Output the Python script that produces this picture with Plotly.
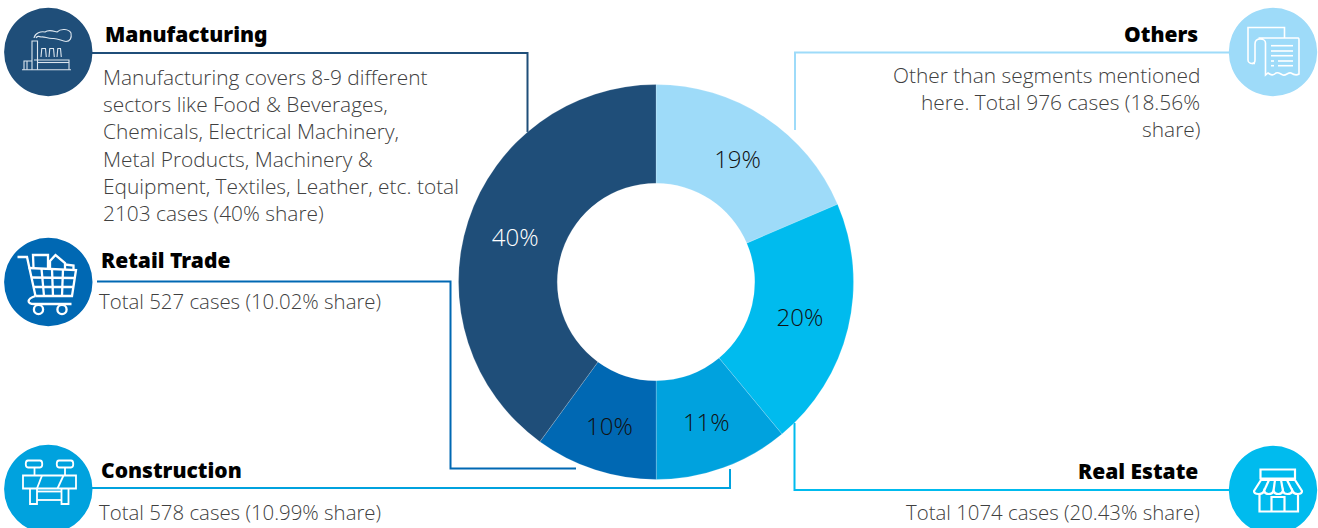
import re
import plotly.graph_objects as go

WIDTH, HEIGHT = 1318, 528

# Donut slices, clockwise from twelve o'clock
categories = ["Others", "Real Estate", "Construction", "Retail Trade", "Manufacturing"]
cases = [976, 1074, 578, 527, 2103]
slice_colors = ["#9EDBF9", "#00BBEE", "#00A2DE", "#0068B3", "#1F4E79"]
label_colors = ["#111111", "#111111", "#111111", "#111111", "#ffffff"]

manufacturing_text = [
    "Manufacturing covers 8-9 different",
    "sectors like Food & Beverages,",
    "Chemicals, Electrical Machinery,",
    "Metal Products, Machinery &",
    "Equipment, Textiles, Leather, etc. total",
    "2103 cases (40% share)",
]
retail_text = ["Total 527 cases (10.02% share)"]
construction_text = ["Total 578 cases (10.99% share)"]
others_text = ["Other than segments mentioned", "here. Total 976 cases (18.56%", "share)"]
real_estate_text = ["Total 1074 cases (20.43% share)"]

BODY_FONT = "Open Sans"
BODY_SIZE = 20.9
TOTAL_SIZE = 20.4
BODY_COLOR = "#404040"
HEAD_FONT = "Noto Sans"
HEAD_SIZE = 21


def px(x):
    return x / WIDTH


def py(y):
    return 1 - y / HEIGHT


def path(d):
    """Turn a path written in page pixels into paper coordinates."""
    res, is_x = [], True
    for tok in re.findall(r"[MLCZ]|-?\d+\.?\d*", d):
        if tok in "MLCZ":
            res.append(tok)
        else:
            res.append(f"{px(float(tok)):.5f}" if is_x else f"{py(float(tok)):.5f}")
            is_x = not is_x
    return " ".join(res)


def stroke(d, color="#ffffff", width=2.0, fill=None):
    return dict(type="path", xref="paper", yref="paper", path=path(d), layer="above",
                line=dict(color=color, width=width),
                fillcolor=fill if fill else "rgba(0,0,0,0)")


def disc(cx, cy, r, color):
    return dict(type="circle", xref="paper", yref="paper", layer="above",
                x0=px(cx - r), x1=px(cx + r), y0=py(cy + r), y1=py(cy - r),
                fillcolor=color, line=dict(width=0))


def ring(cx, cy, r, **kw):
    k = 0.5523 * r
    return stroke(
        f"M {cx-r} {cy} C {cx-r} {cy-k} {cx-k} {cy-r} {cx} {cy-r} "
        f"C {cx+k} {cy-r} {cx+r} {cy-k} {cx+r} {cy} "
        f"C {cx+r} {cy+k} {cx+k} {cy+r} {cx} {cy+r} "
        f"C {cx-k} {cy+r} {cx-r} {cy+k} {cx-r} {cy} Z", **kw)


def leader(d, color):
    s = stroke(d, color=color, width=2.0)
    s["layer"] = "below"
    return s


shapes = [
    leader("M 90 53 L 527.5 53 L 527.5 132", slice_colors[4]),
    leader("M 97 281.5 L 450.5 281.5 L 450.5 468.5 L 576 468.5", slice_colors[3]),
    leader("M 90 488 L 730 488 L 730 469", slice_colors[2]),
    leader("M 795 130 L 795 52.5 L 1232 52.5", slice_colors[0]),
    leader("M 794.5 423 L 794.5 490 L 1232 490", slice_colors[1]),
]

# Round badges
shapes += [
    disc(48.3, 52, 44.2, slice_colors[4]),
    disc(48.3, 282, 44.2, slice_colors[3]),
    disc(48.3, 489, 44.2, slice_colors[2]),
    disc(1273, 52, 44.2, slice_colors[0]),
    disc(1273, 490, 44.2, slice_colors[1]),
]

# Factory icon
factory = "#DCE5EE"
shapes += [stroke(d, color=factory, width=1.1) for d in [
    "M 22 69.7 L 71 69.7",
    "M 34 60 L 69 60 L 69 69.7",
    "M 37.5 62.5 L 69 62.5",
    "M 32 69.7 L 32 41 L 37.5 41 L 37.5 69.7",
    "M 41 57 L 41.8 48.5 L 45.5 48.5 L 46.3 57",
    "M 49 57 L 49.8 48.5 L 53.5 48.5 L 54.3 57",
    "M 57 57 L 57.8 48.5 L 60.5 48.5 L 61.3 57",
    "M 24 69.7 L 24 61 L 32 61",
    "M 27 61 L 27 69.7",
    "M 34 38 C 35 33 41 31 45 32 C 49 29 53 31 57 32 C 61 28 69 29 71 33 "
    "C 72 38 70 41.5 66 41.5 C 62 41.5 58 38 53 38.5 C 48 39 44 36 41 37 C 39 36 37 36 36 38",
]]

# Shopping cart icon
shapes += [stroke(d, width=2.3) for d in [
    "M 17.5 257 L 27 257 L 35.5 296",
    "M 28.5 268 L 76 270 L 72 296 L 35.5 296",
    "M 31 277.5 L 74.5 278",
    "M 33 287 L 73 287",
    "M 41.5 268.5 L 44 296",
    "M 52 269 L 53 296",
    "M 63 269.5 L 62 296",
    "M 35.5 296 C 26 299 27 304 34 304 L 71.5 304",
    "M 33.5 268 L 33 255 L 48 255 L 48 268",
    "M 50 268 L 50 261 L 55.5 255 L 65 263 L 65 269",
    "M 65 264.5 L 73.5 265.5 L 73.5 269.5",
]]
shapes += [ring(38.5, 309.5, 4.6, width=2.3), ring(62, 309.5, 4.6, width=2.3)]

# Road barrier icon
shapes += [stroke(d, width=1.8) for d in [
    "M 28 460.5 L 40 460.5 C 43 460.5 43 467.5 40 467.5 L 28 467.5 C 25 467.5 25 460.5 28 460.5 Z",
    "M 59 460.5 L 71 460.5 C 74 460.5 74 467.5 71 467.5 L 59 467.5 C 56 467.5 56 460.5 59 460.5 Z",
    "M 34.5 467.5 L 34.5 475",
    "M 65 467.5 L 65 475",
    "M 23 475.5 L 76 475.5 L 76 488.5 L 23 488.5 Z",
    "M 42 475.5 L 37 488.5",
    "M 63.5 475.5 L 57.5 488.5",
    "M 30 488.5 L 30 504 L 37 504 L 37 488.5",
    "M 61.5 488.5 L 61.5 504 L 68.5 504 L 68.5 488.5",
    "M 37 491.5 L 61.5 491.5",
    "M 37 500 L 61.5 500",
]]

# Receipt icon
shapes += [stroke(d, width=1.6) for d in [
    "M 1284.5 38 L 1284.5 27.5 L 1248 27.5 L 1248 60 C 1248 62 1250 63.5 1252 63.5 L 1255 63.5",
    "M 1258.5 38 L 1298.5 38 C 1299 38 1299 39 1299 40 L 1299 74 "
    "C 1296 76 1294 75 1291 73 C 1288 72 1286 76 1283 75 C 1280 74 1279 72 1276 73 "
    "C 1273 76 1271 75 1268 73 L 1265.5 75 L 1265.5 43 C 1265.5 38 1255 37 1255 44 L 1255 60 "
    "C 1255 62 1254 63.5 1252 63.5",
    "M 1271 45.7 L 1293 45.7",
    "M 1271 51 L 1293 51",
    "M 1271 55.7 L 1293 55.7",
    "M 1271 61 L 1274 61",
    "M 1278 61 L 1293 61",
    "M 1271 65.7 L 1274 65.7",
    "M 1278 65.7 L 1293 65.7",
]]

# Storefront icon
shapes += [stroke(d, width=2.2) for d in [
    "M 1260.5 469.5 L 1295 469.5 L 1295 478.5 L 1260.5 478.5 Z",
    "M 1261 480 L 1295 480 L 1302 491 C 1302 495 1294 495 1292.5 491 "
    "C 1291 495 1284 495 1283 491 C 1281.5 495 1275 495 1273.5 491 "
    "C 1272 495 1265.5 495 1264 491 C 1262.5 495 1254 495 1254 491 Z",
    "M 1269 480 L 1264 491",
    "M 1275 480 L 1273.5 491",
    "M 1281 480 L 1283 491",
    "M 1287 480 L 1292.5 491",
    "M 1259.5 495 L 1259.5 511.5 L 1298 511.5 L 1298 495",
    "M 1271.5 511.5 L 1271.5 497 L 1284.5 497 L 1284.5 511.5",
]]

annotations = []


def text(s, x, y, anchor, family, size, color, weight):
    annotations.append(dict(
        text=s, x=px(x), y=py(y), xref="paper", yref="paper",
        xanchor=anchor, yanchor="middle", showarrow=False,
        font=dict(family=family, size=size, color=color, weight=weight),
        borderpad=0, borderwidth=0,
    ))


def block(heading, hx, hy, lines, bx, by, anchor, size=BODY_SIZE, step=27.2):
    text(heading, hx, hy, anchor, HEAD_FONT, HEAD_SIZE, "#000000", 900)
    for i, line in enumerate(lines):
        text(line, bx, by + i * step, anchor, BODY_FONT, size, BODY_COLOR, 300)


block("Manufacturing", 105, 34, manufacturing_text, 103, 77, "left")
block("Retail Trade", 101, 260, retail_text, 99, 301, "left", size=TOTAL_SIZE)
block("Construction", 101, 470, construction_text, 99, 512, "left", size=TOTAL_SIZE)
block("Others", 1198, 34, others_text, 1199.5, 75, "right")
block("Real Estate", 1198, 471, real_estate_text, 1199.5, 512, "right", size=TOTAL_SIZE)

CX, CY, R = 656, 282, 197.5

fig = go.Figure(go.Pie(
    labels=categories,
    values=cases,
    sort=False,
    direction="clockwise",
    rotation=0,
    hole=0.5,
    marker=dict(colors=slice_colors, line=dict(color="rgba(255,255,255,0.3)", width=0.6)),
    texttemplate="%{percent:.0%}",
    textposition="inside",
    insidetextorientation="horizontal",
    textfont=dict(family=BODY_FONT, size=24, color=label_colors, weight=300),
    domain=dict(x=[px(CX - R), px(CX + R)], y=[py(CY + R), py(CY - R)]),
    showlegend=False,
))

fig.update_layout(
    width=WIDTH,
    height=HEIGHT,
    margin=dict(l=0, r=0, t=0, b=0),
    paper_bgcolor="#ffffff",
    shapes=shapes,
    annotations=annotations,
)

fig.write_html("out.html", config=dict(displayModeBar=False))
